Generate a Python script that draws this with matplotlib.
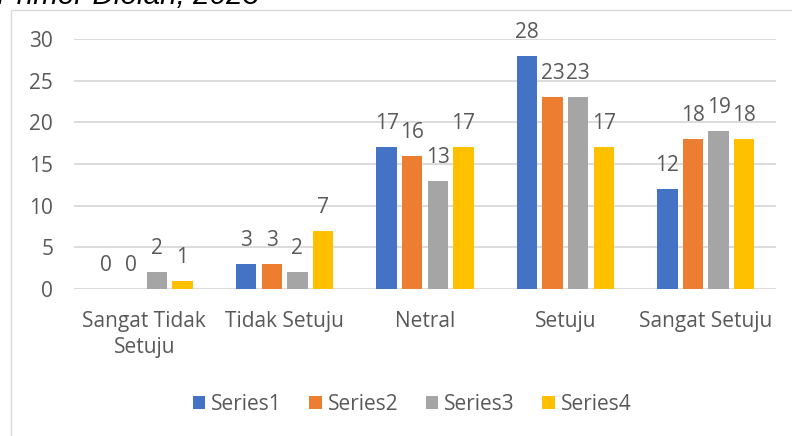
import matplotlib
matplotlib.use("Agg")
import matplotlib.pyplot as plt
from matplotlib.patches import Rectangle
import numpy as np

categories = ["Sangat Tidak\nSetuju", "Tidak Setuju", "Netral", "Setuju", "Sangat Setuju"]
series_names = ["Series1", "Series2", "Series3", "Series4"]
series1 = [0, 3, 17, 28, 12]
series2 = [0, 3, 16, 23, 18]
series3 = [2, 2, 13, 23, 19]
series4 = [1, 7, 17, 17, 18]
colors = ["#4472C4", "#ED7D31", "#A5A5A5", "#FFC000"]
yticks = [0, 5, 10, 15, 20, 25, 30]

TEXT = "#595959"
FS = 15
plt.rcParams["font.family"] = ["Open Sans", "DejaVu Sans"]

fig = plt.figure(figsize=(7.92, 4.36), dpi=100)
ax = fig.add_axes([74 / 792, 147 / 436, 702 / 792, 250 / 436])

# chart border, cropped on the right and bottom like the screenshot
fig.patches.append(Rectangle((11 / 792, -0.2), 1.2, 1 - 10 / 436 + 0.2,
                             transform=fig.transFigure, fill=False,
                             edgecolor="#D9D9D9", linewidth=1.0))

fig.text(-0.004, 1 - 4 / 436, "Primer Diolah, 2023", fontsize=21.3,
         family="Liberation Sans", style="italic", color="black",
         ha="left", va="baseline")

x = np.arange(len(categories))
width = 0.145
step = 0.182
all_series = [series1, series2, series3, series4]
for i, (vals, name, col) in enumerate(zip(all_series, series_names, colors)):
    pos = x + (i - 1.5) * step
    ax.bar(pos, vals, width, color=col, label=name, zorder=3)
    for px, v in zip(pos, vals):
        ax.annotate(str(v), (px, v), xytext=(0, 13), textcoords="offset points",
                    ha="center", va="baseline", fontsize=FS, color=TEXT)

ax.set_xlim(-0.5, len(categories) - 0.5)
ax.set_ylim(0, 30)
ax.set_yticks(yticks)
ax.set_xticks(x, categories)
ax.grid(axis="y", color="#D9D9D9", linewidth=1.3, zorder=0)
for s in ax.spines.values():
    s.set_visible(False)
ax.tick_params(axis="y", length=0, pad=15, labelsize=FS, labelcolor=TEXT)
ax.tick_params(axis="x", length=0, pad=16, labelsize=FS, labelcolor=TEXT)
for lbl in ax.get_xticklabels():
    lbl.set_linespacing(1.3)

fig.legend(loc="center", bbox_to_anchor=(412 / 792, 1 - 404 / 436), ncol=4,
           frameon=False, fontsize=FS, labelcolor=TEXT, handlelength=0.6,
           handleheight=0.6, handletextpad=0.3, columnspacing=1.3)

fig.savefig("out.png", dpi=100)
